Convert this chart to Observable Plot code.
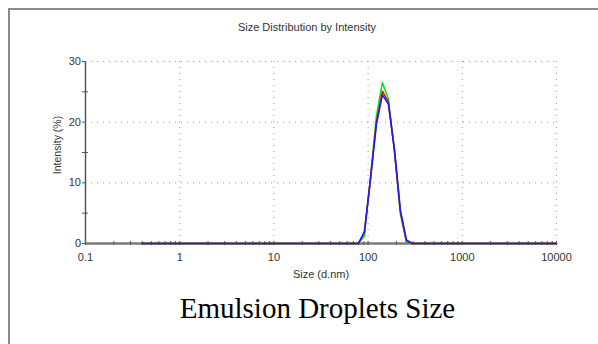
<!DOCTYPE html>
<html><head><meta charset="utf-8">
<script src="https://cdn.jsdelivr.net/npm/d3@7"></script>
<script src="https://cdn.jsdelivr.net/npm/@observablehq/plot@0.6"></script>
<style>
body{margin:0;background:#fff;}
#wrap{position:relative;width:598px;height:344px;overflow:hidden;font-family:"Liberation Sans",Arial,sans-serif;color:#333;}
#border{position:absolute;left:8px;top:8px;width:700px;height:500px;border-left:2px solid #8a8a8a;border-top:2px solid #8a8a8a;}
#chart{position:absolute;left:0;top:0;}
.lab{position:absolute;white-space:nowrap;line-height:1;}
#title{top:21.7px;left:0;width:614px;text-align:center;font-size:11px;}
#xlab{top:268.7px;left:0;width:642px;text-align:center;font-size:11px;}
#ylab{left:57px;top:145px;font-size:10.5px;transform:translate(-50%,-50%) rotate(-90deg);}
#caption{top:294px;left:0;width:635px;text-align:center;font-family:"Liberation Serif","Times New Roman",serif;font-size:29px;color:#000;}
</style>
</head><body>
<div id="wrap">
  <div id="border"></div>
  <div id="chart"></div>
  <div class="lab" id="title">Size Distribution by Intensity</div>
  <div class="lab" id="ylab">Intensity (%)</div>
  <div class="lab" id="xlab">Size (d.nm)</div>
  <div class="lab" id="caption">Emulsion Droplets Size</div>
</div>
<script>
// Size bins (d.nm)
const sizes = [0.4,0.4632,0.5365,0.6213,0.7195,0.8332,0.9649,1.117,1.294,1.499,1.736,2.010,2.328,2.696,3.122,3.615,4.187,4.849,5.615,6.503,7.531,8.721,10.10,11.70,13.54,15.69,18.17,21.04,24.36,28.21,32.67,37.84,43.82,50.75,58.77,68.06,78.82,91.28,105.7,122.4,141.8,164.2,190.1,220.2,255.0,295.3,342.0,396.1,458.7,531.2,615.1,712.4,825.0,955.4,1106,1281,1484,1718,1990,2305,2669,3091,3580,4145,4801,5560,6439,7456,8635,10000];
// Intensity (%) per record
const z36 = [0,0,0,0,0,0,0,0,0,0,0,0,0,0,0,0,0,0,0,0,0,0,0,0,0,0,0,0,0,0,0,0,0,0,0,0];
const z24 = [0,0,0,0,0,0,0,0,0,0,0,0,0,0,0,0,0,0,0,0,0,0,0,0];
const greenPeak = [0,1.2,10.8,21.0,26.5,23.8,15.2,4.8,0.2,0];
const redPeak   = [0,1.8,10.5,20.0,25.1,23.3,15.5,5.2,0.4,0];
const bluePeak  = [0,1.9,10.4,19.6,24.5,23.0,15.6,5.5,0.6,0];
const green = [...z36, ...greenPeak, ...z24];
const red   = [...z36, ...redPeak, ...z24];
const blue  = [...z36, ...bluePeak, ...z24];

const xTicks = [0.1,1,10,100,1000,10000];
const xGrid = [1,10,100,1000,10000];
const xMinorMult = [2,3,4,5,6,7,8,9];
const xMinor = [0.1,1,10,100,1000].flatMap(d => xMinorMult.map(m => d*m));
const yTicks = [0,10,20,30];
const yGrid = [10,20,30];
const yMinor = [5,15,25];

const mk = arr => sizes.map((s,i) => ({size:s, value:arr[i]}));

const chart = Plot.plot({
  width: 598, height: 344,
  marginLeft: 85, marginRight: 42, marginTop: 61, marginBottom: 101,
  x: {type: "log", domain: [0.1, 10000], label: null},
  y: {domain: [0, 30], label: null},
  style: {fontFamily: '"Liberation Sans", Arial, sans-serif', fontSize: "11px", color: "#333", background: "transparent"},
  marks: [
    Plot.gridX(xGrid, {stroke: "#9a9a9a", strokeOpacity: 1, strokeDasharray: "1,5"}),
    Plot.gridY(yGrid, {stroke: "#9a9a9a", strokeOpacity: 1, strokeDasharray: "1,5"}),
    Plot.ruleY([0], {stroke: "#7a7a7a", strokeWidth: 2.5}),
    Plot.ruleX([0.1], {y1: 0, y2: 30, stroke: "#555", strokeWidth: 1.5}),
    Plot.axisX(xMinor, {tickSize: 4, dy: -2, text: null, stroke: "#555", label: null}),
    Plot.axisX(xTicks, {tickSize: 4, dy: -2, tickPadding: 7.5, stroke: "#555", tickFormat: d => String(d), label: null}),
    Plot.axisY(yTicks, {tickSize: 3, tickPadding: 1.5, stroke: "#555", tickFormat: d => String(d), label: null}),
    Plot.axisY(yMinor, {tickSize: 6, dx: 3, text: null, stroke: "#555", label: null}),
    Plot.line(mk(green), {x: "size", y: "value", stroke: "#00e600", strokeWidth: 1.5}),
    Plot.line(mk(red), {x: "size", y: "value", stroke: "#ff0000", strokeWidth: 1.5}),
    Plot.line(mk(blue), {x: "size", y: "value", stroke: "#1a1aff", strokeWidth: 1.6})
  ]
});
document.getElementById("chart").appendChild(chart);
</script>
</body></html>
